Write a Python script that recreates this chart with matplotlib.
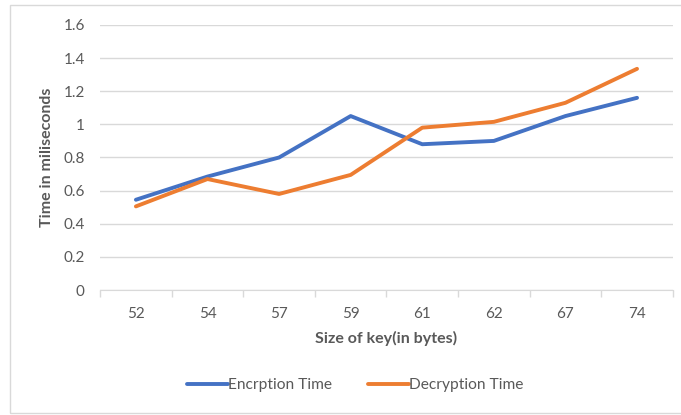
import numpy as np
from matplotlib import pyplot as plt
from matplotlib.patches import Rectangle

plt.rcParams['font.family'] = ['Lato', 'DejaVu Sans']

key_sizes = ['52', '54', '57', '59', '61', '62', '67', '74']
enc_time = [0.545, 0.685, 0.80, 1.05, 0.88, 0.90, 1.05, 1.16]
dec_time = [0.505, 0.67, 0.58, 0.695, 0.98, 1.015, 1.13, 1.335]

grey = '#595959'
fig = plt.figure(figsize=(6.81, 4.15), dpi=100)
ax = fig.add_axes([0.147, 0.301, 0.841, 0.639])

x = np.arange(len(key_sizes))
ax.plot(x, enc_time, color='#4472C4', lw=2.8, label='Encrption Time', solid_capstyle='round')
ax.plot(x, dec_time, color='#ED7D31', lw=2.8, label='Decryption Time', solid_capstyle='round')

ax.set_xlim(-0.5, len(key_sizes) - 0.5)
ax.set_ylim(0, 1.6)
ax.set_yticks(np.arange(0, 1.61, 0.2))
ax.set_yticklabels(['0', '0.2', '0.4', '0.6', '0.8', '1', '1.2', '1.4', '1.6'])
ax.set_xticks(x)
ax.set_xticklabels(key_sizes)
ax.set_xticks(np.arange(-0.5, len(key_sizes)), minor=True)
ax.tick_params(axis='x', which='major', length=0, pad=12, labelsize=11, labelcolor=grey)
ax.tick_params(axis='x', which='minor', length=5, color='#D9D9D9', width=1)
ax.tick_params(axis='y', length=0, pad=11, labelsize=11, labelcolor=grey)
ax.grid(axis='y', color='#D9D9D9', lw=1)
ax.set_axisbelow(True)
for s in ['top', 'right', 'left']:
    ax.spines[s].set_visible(False)
ax.spines['bottom'].set_color('#D9D9D9')

ax.set_xlabel('Size of key(in bytes)', fontsize=11.5, fontweight='bold', color=grey, labelpad=7)
ax.set_ylabel('Time in miliseconds', fontsize=11.5, fontweight='bold', color=grey, labelpad=7)

fig.legend(loc='center', bbox_to_anchor=(0.522, 0.072), ncol=2, frameon=False,
           fontsize=11.2, labelcolor=grey, handlelength=2.6, handletextpad=0.05, columnspacing=2.3)

fig.patches.append(Rectangle((10 / 681, 2 / 415), 1.0, 408 / 415, transform=fig.transFigure,
                             fill=False, edgecolor='#D9D9D9', lw=1))

plt.savefig('out.png', dpi=100)
